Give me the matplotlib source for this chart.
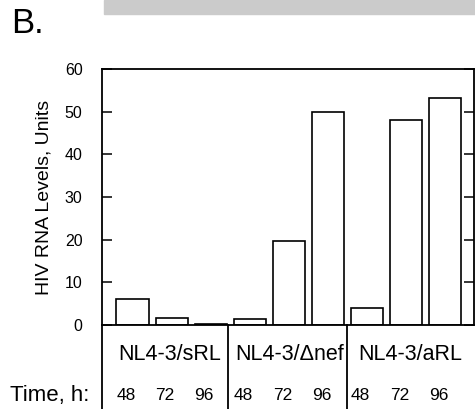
import matplotlib
matplotlib.use('Agg')
import matplotlib.pyplot as plt
from matplotlib.patches import Rectangle

plt.rcParams['font.family'] = ['Liberation Sans', 'DejaVu Sans']

# 数据
groups = ['NL4-3/sRL', 'NL4-3/\u0394nef', 'NL4-3/aRL']
times = ['48', '72', '96']
srl_values = [6.1, 1.6, 0.3]
dnef_values = [1.3, 19.7, 50.0]
arl_values = [4.1, 48.0, 53.2]
y_ticks = [0, 10, 20, 30, 40, 50, 60]

W, H = 475, 409
fig = plt.figure(figsize=(W / 100, H / 100), dpi=100)

# 坐标轴位置 (像素)
ax_left, ax_right, ax_top, ax_bottom = 102, 474, 69, 325
ax = fig.add_axes([ax_left / W, 1 - ax_bottom / H,
                   (ax_right - ax_left) / W, (ax_bottom - ax_top) / H])

all_values = srl_values + dnef_values + arl_values
x = list(range(len(all_values)))
ax.bar(x, all_values, width=0.82, color='white', edgecolor='black', linewidth=1.2)

ax.set_xlim(-0.78, 8.73)
ax.set_ylim(0, 60)
ax.set_yticks(y_ticks)
ax.set_xticks([])
ax.tick_params(axis='y', direction='in', length=7, width=1.1, pad=14,
               labelsize=11.5, right=True)
for s in ax.spines.values():
    s.set_linewidth(1.3)
ax.set_ylabel('HIV RNA Levels, Units', fontsize=14, labelpad=9)

# 下方表格
tr = ax.get_xaxis_transform()
ax_h = ax_bottom - ax_top
table_bottom = -(H - ax_bottom) / ax_h
for sep in [-0.78, 2.44, 5.49]:
    ax.plot([sep, sep], [0, table_bottom], transform=tr, color='black',
            linewidth=1.3, clip_on=False)

group_centers = [0.95, 4.02, 7.1]
for gx, name in zip(group_centers, groups):
    ax.text(gx, -(355 - ax_bottom) / ax_h, name, transform=tr,
            ha='center', va='center', fontsize=15.5)
for i in x:
    ax.text(i - 0.17, -(396 - ax_bottom) / ax_h, times[i % 3],
            transform=tr, ha='center', va='center', fontsize=12.5)

fig.text(10 / W, 1 - 396 / H, 'Time, h:', ha='left', va='center', fontsize=16)

# 面板标签和顶部灰条
fig.text(11 / W, 1 - 33 / H, 'B.', ha='left', va='baseline', fontsize=25)
fig.patches.append(Rectangle((104 / W, 1 - 14 / H), (W - 104) / W, 14 / H,
                             transform=fig.transFigure, color='#cbcbcb'))

plt.savefig('out.png', dpi=100)
